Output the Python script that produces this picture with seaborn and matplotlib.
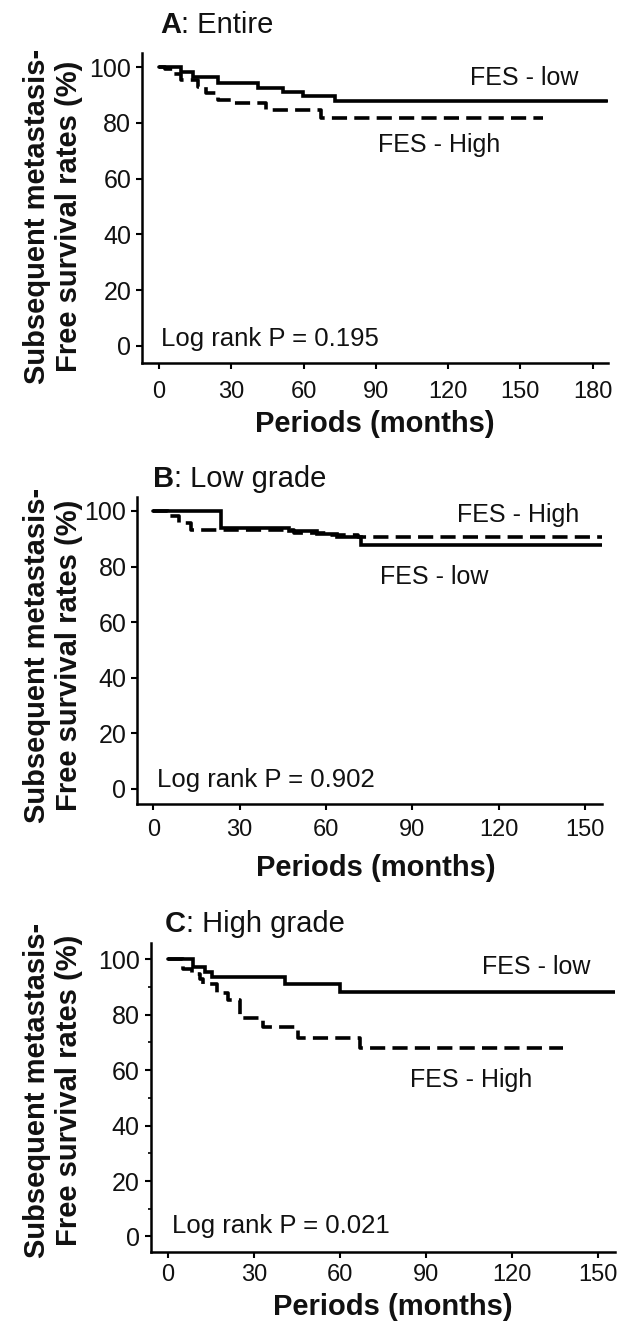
import matplotlib
matplotlib.use("Agg")
import matplotlib.pyplot as plt
import seaborn as sns
import pandas as pd

# ---------------- data ----------------
xticks_A = [0, 30, 60, 90, 120, 150, 180]
xticks_BC = [0, 30, 60, 90, 120, 150]
yticks = [0, 20, 40, 60, 80, 100]

A_low_t = [0, 9.3, 14.1, 24.5, 41.1, 51.5, 59.8, 73.0, 186]
A_low_s = [100, 98.3, 96.5, 94.2, 92.4, 91.2, 89.7, 87.8, 87.8]
A_high_t = [0, 2.4, 5.9, 9.3, 16.2, 19.7, 24.5, 30.7, 44.6, 67.4, 159.5]
A_high_s = [100, 99.2, 97.7, 95.4, 93.0, 90.6, 88.4, 87.3, 84.8, 81.6, 81.6]

B_low_t = [0, 23.5, 47, 57, 64, 72, 156]
B_low_s = [100, 93.8, 92.6, 91.6, 90.6, 87.6, 87.6]
B_high_t = [0, 5, 9, 13, 49, 60, 71, 156]
B_high_s = [100, 98, 95.6, 93.2, 92.2, 91.4, 90.6, 90.6]

C_low_t = [0, 8.9, 13, 15.3, 40.9, 60, 156]
C_low_s = [100, 97.3, 95.5, 93.5, 91.0, 88.3, 88.3]
C_high_t = [0, 5.5, 8.4, 11.2, 12.4, 17.1, 21.1, 25.2, 33.3, 45.5, 67, 137.8]
C_high_s = [100, 96.7, 94.9, 92.8, 91.0, 87.7, 85.3, 78.7, 75.7, 71.5, 67.9, 67.9]

titles = [("A", ": Entire"), ("B", ": Low grade"), ("C", ": High grade")]
pvals = ["Log rank P = 0.195", "Log rank P = 0.902", "Log rank P = 0.021"]
low_label = "FES - low"
high_label = "FES - High"
ylab1 = "Subsequent metastasis-"
ylab2 = "Free survival rates (%)"
xlab = "Periods (months)"

# ---------------- style ----------------
sns.set_style("ticks")
plt.rcParams["font.family"] = ["Liberation Sans", "DejaVu Sans"]

W, H = 622, 1330
fig = plt.figure(figsize=(W / 100, H / 100), dpi=100)


def fx(px):
    return px / W


def fy(py):
    return 1 - py / H


panels = [
    dict(box=(142.0, 608.3, 52.7, 362.7), xlim=(-7.06, 186.5), ylim=(-6.0, 105.2),
         xt=xticks_A, low=(A_low_t, A_low_s), high=(A_high_t, A_high_s),
         low_pos=(129, 96.3), high_pos=(90.8, 72.1), p_pos=(1.0, 0.0),
         title=(160, 33), xlab=(375, 432), ylab_c=216, xpad=8.6, minor=False),
    dict(box=(137.3, 601.7, 497.0, 804.0), xlim=(-5.56, 155.8), ylim=(-5.4, 105.0),
         xt=xticks_BC, low=(B_low_t, B_low_s), high=(B_high_t, B_high_s),
         low_pos=(78.8, 76.3), high_pos=(105.5, 98.5), p_pos=(1.3, 0.8),
         title=(153.3, 487), xlab=(376, 876), ylab_c=655, xpad=6.5, minor=False),
    dict(box=(150.7, 615.0, 943.3, 1251.7), xlim=(-5.9, 155.8), ylim=(-5.5, 105.8),
         xt=xticks_BC, low=(C_low_t, C_low_s), high=(C_high_t, C_high_s),
         low_pos=(109.4, 97.3), high_pos=(84.4, 56.4), p_pos=(1.4, 1.1),
         title=(165, 932), xlab=(392.5, 1315), ylab_c=1090, xpad=4.7, minor=True),
]

renderer = fig.canvas.get_renderer()
lw = 2.6
dash = (0, (4.2, 2.0))
tc = "#111111"

for i, p in enumerate(panels):
    l, r, t, b = p["box"]
    ax = fig.add_axes([fx(l), fy(b), (r - l) / W, (b - t) / H])
    lt, ls = p["low"]
    ht, hs = p["high"]
    dlow = pd.DataFrame({"t": lt, "s": ls})
    dhigh = pd.DataFrame({"t": ht, "s": hs})
    sns.lineplot(data=dlow, x="t", y="s", ax=ax, color="black", lw=lw,
                 drawstyle="steps-post", estimator=None, solid_joinstyle="miter")
    sns.lineplot(data=dhigh, x="t", y="s", ax=ax, color="black", lw=lw,
                 drawstyle="steps-post", estimator=None, linestyle=dash)
    ax.set_xlim(*p["xlim"])
    ax.set_ylim(*p["ylim"])
    ax.set_xticks(p["xt"])
    ax.set_yticks(yticks)
    if p["minor"]:
        ax.set_yticks([10, 30, 50, 70, 90], minor=True)
        ax.tick_params(axis="y", which="minor", length=2.5, width=1.2, color="black")
    ax.set_xlabel("")
    ax.set_ylabel("")
    sns.despine(ax=ax)
    for s in ("left", "bottom"):
        ax.spines[s].set_linewidth(1.8)
        ax.spines[s].set_color("black")
    ax.tick_params(axis="both", which="major", length=4.3, width=1.5, color="black",
                   labelcolor=tc)
    ax.tick_params(axis="x", pad=p["xpad"], labelsize=17)
    ax.tick_params(axis="y", pad=3.5, labelsize=18)

    ax.text(*p["low_pos"], low_label, fontsize=18, color=tc, ha="left", va="center")
    ax.text(*p["high_pos"], high_label, fontsize=18, color=tc, ha="left", va="center")
    ax.text(*p["p_pos"], pvals[i], fontsize=18.5, color=tc, ha="left", va="baseline")

    # title: bold letter + regular rest
    tx, ty = p["title"]
    t1 = fig.text(fx(tx), fy(ty), titles[i][0], fontsize=21, fontweight="bold",
                  ha="left", va="baseline", color=tc)
    bb = t1.get_window_extent(renderer=renderer)
    fig.text(bb.x1 / W, fy(ty), titles[i][1], fontsize=21, ha="left", va="baseline",
             color=tc)

    # axis labels
    xx, xy = p["xlab"]
    fig.text(fx(xx), fy(xy), xlab, fontsize=21, fontweight="bold", ha="center",
             va="baseline", color=tc)
    yc = p["ylab_c"]
    fig.text(fx(37), fy(yc), ylab1, fontsize=21, fontweight="bold", rotation=90,
             ha="center", va="center", color=tc)
    fig.text(fx(69), fy(yc), ylab2, fontsize=21, fontweight="bold", rotation=90,
             ha="center", va="center", color=tc)

fig.savefig("out.png", dpi=100)
